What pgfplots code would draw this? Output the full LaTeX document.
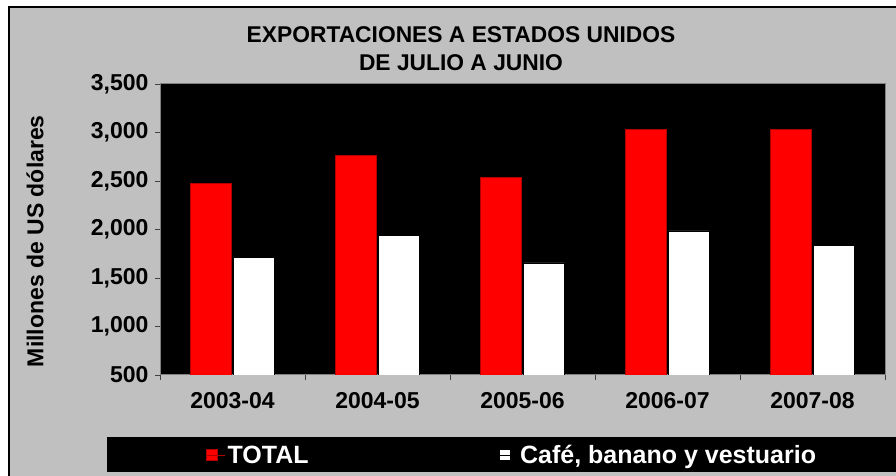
\documentclass[border=0pt]{standalone}
\usepackage{pgfplots}
\pgfplotsset{compat=1.18}
\usepackage{fontspec}
\setmainfont{Liberation Sans}
\definecolor{bg}{HTML}{C0C0C0}
\definecolor{axl}{HTML}{404040}
\begin{document}
\begin{tikzpicture}
\fill[white] (0bp,0bp) rectangle (896bp,476bp);
\fill[bg] (9bp,0bp) rectangle (896bp,469bp);
\draw[black, line width=1.2bp] (9bp,0bp) -- (9bp,469bp) -- (896bp,469bp);
\fill[black] (107bp,4bp) rectangle (896bp,39bp);
\node[font=\fontsize{22.8bp}{28bp}\selectfont\bfseries, align=center] at (461bp,427bp)
  {EXPORTACIONES A ESTADOS UNIDOS\\DE JULIO A JUNIO};
\begin{axis}[
  at={(160bp,101bp)}, anchor=south west,
  width=725bp, height=291bp, scale only axis,
  ybar=2bp, bar width=41bp,
  xmin=-0.5, xmax=4.5,
  ymin=500, ymax=3500,
  ytick={500,1000,...,3500},
  xtick={-0.5,0.5,...,4.5},
  xticklabels={},
  extra x ticks={0,1,2,3,4},
  extra x tick labels={2003-04,2004-05,2005-06,2006-07,2007-08},
  extra x tick style={major tick length=0pt},
  tick pos=left,
  tick align=outside,
  major tick length=5bp,
  tick style={axl, line width=0.8bp},
  axis line style={draw=gray, line width=1bp},
  axis background/.style={fill=black},
  ticklabel style={font=\fontsize{23bp}{26bp}\selectfont\bfseries, text=black},
  /pgf/number format/.cd, 1000 sep={,}, assume math mode=true,
  /pgfplots/.cd,
  yticklabel style={xshift=-3bp},
  xticklabel style={yshift=-14bp},
  ylabel={Millones de US dólares},
  ylabel style={at={(axis description cs:-0.1724,0.46)}, anchor=center,
    font=\fontsize{23bp}{26bp}\selectfont\bfseries},
  legend style={at={(axis description cs:0.059,-0.275)}, anchor=west,
    fill=none, draw=none, text=white,
    font=\fontsize{25bp}{28bp}\selectfont\bfseries,
    legend columns=2,
    /tikz/every even column/.append style={column sep=188bp}},
  legend image code/.code={\fill[#1] (0bp,-5.5bp) rectangle (11bp,5.5bp); \path (0bp,0bp) -- (19bp,0bp);},
]
\addplot[fill=red, draw=red!70!black, line width=0.6bp] coordinates {(0,2476) (1,2765) (2,2538) (3,3033) (4,3033)};
\addplot[fill=white, draw=black, line width=0.6bp] coordinates {(0,1713) (1,1943) (2,1655) (3,1985) (4,1840)};
\legend{TOTAL, {Café, banano y vestuario}}
\end{axis}
\pgfresetboundingbox
\path[use as bounding box] (0bp,0bp) rectangle (896bp,476bp);
\end{tikzpicture}
\end{document}
